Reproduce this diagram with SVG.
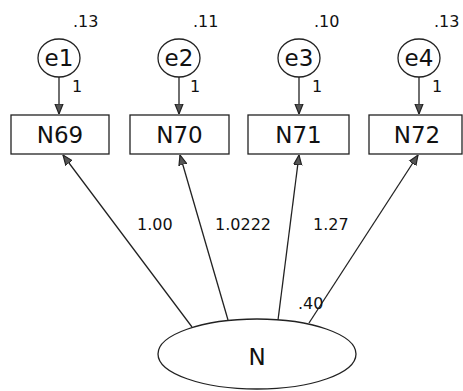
<svg xmlns="http://www.w3.org/2000/svg" width="463" height="391" viewBox="0 0 463 391">
<style>
  .node { fill: #fff; stroke: #222; stroke-width: 1.3; }
  .lbl { font-family: "DejaVu Sans", "Liberation Sans", sans-serif; fill: #111; }
  .big { font-size: 23px; text-anchor: middle; dominant-baseline: central; }
  .sm { font-size: 16px; }
  .path { font-size: 16px; }
  .edge { stroke: #222; stroke-width: 1.3; fill: none; marker-end: url(#arr); }
</style>
<defs>
  <marker id="arr" viewBox="0 0 10 10" refX="10" refY="5" markerWidth="10" markerHeight="10" markerUnits="userSpaceOnUse" orient="auto">
    <path d="M0,1 L10,5 L0,9 Z" fill="#555" stroke="#222" stroke-width="1.2"/>
  </marker>
</defs>
<rect width="463" height="391" fill="#fff"/>
<g id="connectors">
  <line class="edge" x1="59" y1="77" x2="59" y2="114"/>
  <line class="edge" x1="179" y1="77" x2="179" y2="114"/>
  <line class="edge" x1="299" y1="77" x2="299" y2="114"/>
  <line class="edge" x1="419" y1="77" x2="419" y2="114"/>
  <line class="edge" x1="192" y1="327" x2="63" y2="155"/>
  <line class="edge" x1="228" y1="320" x2="180" y2="155"/>
  <line class="edge" x1="278" y1="320" x2="299" y2="155"/>
  <line class="edge" x1="309" y1="323" x2="418" y2="155"/>
  <text class="lbl sm" x="72" y="92">1</text>
  <text class="lbl sm" x="190" y="92">1</text>
  <text class="lbl sm" x="312" y="92">1</text>
  <text class="lbl sm" x="432" y="92">1</text>
  <text class="lbl path" x="137" y="230">1.00</text>
  <text class="lbl path" x="215" y="230">1.0222</text>
  <text class="lbl path" x="313" y="230">1.27</text>
  <text class="lbl path" x="298" y="309">.40</text>
</g>
<g id="e1">
  <ellipse class="node" cx="59" cy="58" rx="21" ry="19"/>
  <text class="lbl big" x="59" y="58">e1</text>
  <text class="lbl sm" x="73" y="27">.13</text>
</g>
<g id="e2">
  <ellipse class="node" cx="179" cy="58" rx="21" ry="19"/>
  <text class="lbl big" x="179" y="58">e2</text>
  <text class="lbl sm" x="193" y="27">.11</text>
</g>
<g id="e3">
  <ellipse class="node" cx="299" cy="58" rx="21" ry="19"/>
  <text class="lbl big" x="299" y="58">e3</text>
  <text class="lbl sm" x="314" y="27">.10</text>
</g>
<g id="e4">
  <ellipse class="node" cx="419" cy="58" rx="21" ry="19"/>
  <text class="lbl big" x="419" y="58">e4</text>
  <text class="lbl sm" x="434" y="27">.13</text>
</g>
<g id="N69">
  <rect class="node" x="11" y="115" width="98" height="39"/>
  <text class="lbl big" x="60" y="135">N69</text>
</g>
<g id="N70">
  <rect class="node" x="130" y="115" width="99" height="39"/>
  <text class="lbl big" x="179.5" y="135">N70</text>
</g>
<g id="N71">
  <rect class="node" x="248" y="115" width="101" height="39"/>
  <text class="lbl big" x="298.5" y="135">N71</text>
</g>
<g id="N72">
  <rect class="node" x="369" y="115" width="93" height="39"/>
  <text class="lbl big" x="417" y="135">N72</text>
</g>
<g id="N">
  <ellipse class="node" cx="257" cy="354" rx="99" ry="35"/>
  <text class="lbl big" x="257" y="357">N</text>
</g>
</svg>
